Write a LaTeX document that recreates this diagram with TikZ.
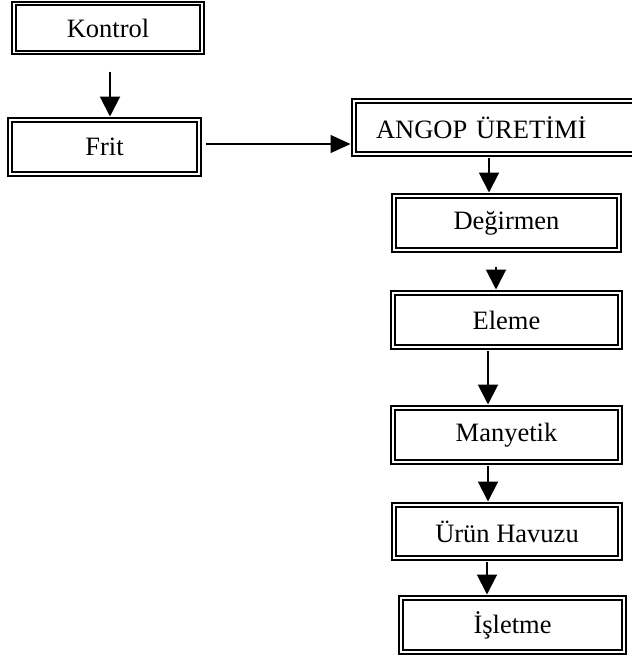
\documentclass[tikz,border=0pt]{standalone}
\usepackage{fontspec}
\setmainfont{Liberation Serif}
\usetikzlibrary{arrows.meta}
\begin{document}
\begin{tikzpicture}[x=1pt,y=-1pt,
  box/.style={draw, line width=2pt, double, double distance=1.6pt, minimum height=54pt, inner sep=0pt,
    font=\fontsize{26.5}{30}\selectfont},
  arr/.style={line width=2pt, -{Triangle[length=20pt,width=20pt]}, shorten >=2.5pt},
  thinarr/.style={line width=1.4pt, -{Triangle[length=20pt,width=18pt]}, shorten >=2.5pt}]
\useasboundingbox (0,0) rectangle (632,659);
\node[box, minimum width=188pt, minimum height=49pt] (kon) at (108,28) {Kontrol};
\node[box, minimum width=189pt] (frit) at (104.5,147) {Frit};
\node[box, minimum height=53pt, anchor=west, text width=250pt, align=left, inner xsep=22pt] (ang) at (353,127.5) {ANGOP ÜRETİMİ};
\node[box, minimum width=225pt] (deg) at (506.5,223) {Değirmen};
\node[box, minimum width=227pt] (ele) at (506.5,320) {Eleme};
\node[box, minimum width=227pt] (man) at (506.5,435) {Manyetik};
\node[box, minimum width=226pt, minimum height=53pt] (urun) at (507,531.5) {Ürün Havuzu};
\node[box, minimum width=223pt] (isl) at (512.5,625) {İşletme};
\draw[arr, shorten <=18pt] ([xshift=2pt]kon.south) -- ([xshift=2pt]kon.south |- frit.north);
\draw[thinarr, shorten <=6pt] ([yshift=3pt]frit.east) -- ([yshift=3pt]frit.east -| ang.west);
\draw[arr, shorten <=3pt] ([xshift=-12pt]ang.south) -- ([xshift=-12pt]ang.south |- deg.north);
\draw[arr, shorten <=16pt] ([xshift=-10.5pt]deg.south) -- ([xshift=-10.5pt]deg.south |- ele.north);
\draw[arr, shorten <=3pt] ([xshift=-18.5pt]ele.south) -- ([xshift=-18.5pt]ele.south |- man.north);
\draw[arr, shorten <=3pt] ([xshift=-18.5pt]man.south) -- ([xshift=-18.5pt]man.south |- urun.north);
\draw[arr, shorten <=3pt] ([xshift=-20pt]urun.south) -- ([xshift=-20pt]urun.south |- isl.north);
\end{tikzpicture}
\end{document}
